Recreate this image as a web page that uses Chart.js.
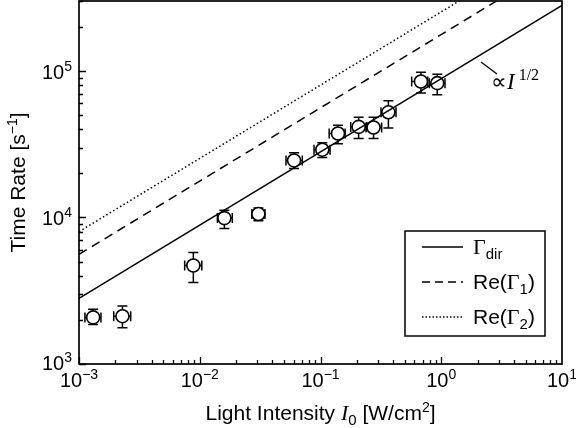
<!DOCTYPE html>
<html>
<head>
<meta charset="utf-8">
<script src="https://cdn.jsdelivr.net/npm/chart.js@4.4.1/dist/chart.umd.min.js"></script>
<style>
  html, body { margin: 0; padding: 0; background: #fff; }
  #chart { display: block; }
</style>
</head>
<body>
<canvas id="chart" width="576" height="428"></canvas>
<script>
(function () {
  'use strict';

  // measured points: intensity (W/cm2) and rate (1/s)
  var intensity = [1.31e-3, 2.29e-3, 8.85e-3, 1.6e-2, 3.06e-2, 6.04e-2, 0.1035, 0.1396, 0.207, 0.275, 0.365, 0.679, 0.927];
  var rate = [2.08e3, 2.12e3, 4.70e3, 9.9e3, 1.055e4, 2.45e4, 2.90e4, 3.74e4, 4.15e4, 4.11e4, 5.22e4, 8.47e4, 8.25e4];
  var rateLow = [1.86e3, 1.77e3, 3.60e3, 8.4e3, 9.5e3, 2.16e4, 2.57e4, 3.18e4, 3.46e4, 3.46e4, 4.08e4, 7.06e4, 6.89e4];
  var rateHigh = [2.36e3, 2.49e3, 5.76e3, 1.12e4, 1.16e4, 2.76e4, 3.23e4, 4.26e4, 4.83e4, 4.83e4, 6.27e4, 9.8e4, 9.5e4];
  var intensityLow = [1.12e-3, 1.94e-3, 7.5e-3, 1.4e-2, 2.7e-2, 5.18e-2, 0.0884, 0.118, 0.178, 0.238, 0.317, 0.569, 0.797];
  var intensityHigh = [1.52e-3, 2.68e-3, 1.04e-2, 1.86e-2, 3.47e-2, 7.07e-2, 0.12, 0.16, 0.241, 0.321, 0.422, 0.773, 1.074];

  // theory lines (endpoints on log-log axes)
  var lineX = [1e-3, 10];
  var gammaDir = [2.8e3, 2.8e5];
  var reGamma1 = [5.6e3, 5.6e5];
  var reGamma2 = [8.0e3, 8.0e5];

  // tick labels
  var xTickExps = ['\u22123', '\u22122', '\u22121', '0', '1'];
  var xTickValues = [1e-3, 1e-2, 1e-1, 1, 10];
  var yTickExps = ['3', '4', '5'];
  var yTickValues = [1e3, 1e4, 1e5];

  var SANS = '"Liberation Sans", Arial, sans-serif';
  var SERIF = '"Liberation Serif", "Times New Roman", serif';

  function pairs(xs, ys) {
    return xs.map(function (x, i) { return { x: x, y: ys[i] }; });
  }

  function drawRich(ctx, parts, x, y, align) {
    // parts: [{t, font, dy, gap}]
    var total = 0;
    parts.forEach(function (p) { ctx.font = p.font; total += ctx.measureText(p.t).width + (p.gap || 0); });
    var cx = align === 'right' ? x - total : (align === 'center' ? x - total / 2 : x);
    parts.forEach(function (p) {
      ctx.font = p.font;
      ctx.fillText(p.t, cx + (p.gap || 0), y + (p.dy || 0));
      cx += ctx.measureText(p.t).width + (p.gap || 0);
    });
  }

  var errorBars = {
    id: 'errorBars',
    beforeDatasetsDraw: function (chart) {
      var ctx = chart.ctx;
      var xs = chart.scales.x, ys = chart.scales.y;
      ctx.save();
      ctx.strokeStyle = '#000';
      ctx.lineWidth = 1.5;
      for (var i = 0; i < intensity.length; i++) {
        var px = xs.getPixelForValue(intensity[i]);
        var py = ys.getPixelForValue(rate[i]);
        var yl = ys.getPixelForValue(rateLow[i]);
        var yh = ys.getPixelForValue(rateHigh[i]);
        var xl = xs.getPixelForValue(intensityLow[i]);
        var xh = xs.getPixelForValue(intensityHigh[i]);
        ctx.beginPath();
        ctx.moveTo(px, yl); ctx.lineTo(px, yh);
        ctx.moveTo(px - 5, yl); ctx.lineTo(px + 5, yl);
        ctx.moveTo(px - 5, yh); ctx.lineTo(px + 5, yh);
        ctx.moveTo(xl, py); ctx.lineTo(xh, py);
        ctx.moveTo(xl, py - 5); ctx.lineTo(xl, py + 5);
        ctx.moveTo(xh, py - 5); ctx.lineTo(xh, py + 5);
        ctx.stroke();
      }
      ctx.restore();
    }
  };

  var frameAndText = {
    id: 'frameAndText',
    afterDraw: function (chart) {
      var ctx = chart.ctx;
      var a = chart.chartArea;
      var xs = chart.scales.x, ys = chart.scales.y;
      ctx.save();
      ctx.strokeStyle = '#000';
      ctx.fillStyle = '#000';

      // frame
      ctx.lineWidth = 1.7;
      ctx.strokeRect(a.left, a.top, a.right - a.left, a.bottom - a.top);

      // inward ticks on bottom and left axes
      ctx.lineWidth = 1.3;
      ctx.beginPath();
      var d, m, v, p;
      for (d = -3; d < 1; d++) {
        for (m = 1; m <= 9; m++) {
          v = m * Math.pow(10, d);
          p = Math.round(xs.getPixelForValue(v)) + 0.5;
          ctx.moveTo(p, a.bottom);
          ctx.lineTo(p, a.bottom - (m === 1 ? 7 : 4));
        }
      }
      for (d = 3; d < 6; d++) {
        for (m = 1; m <= 9; m++) {
          v = m * Math.pow(10, d);
          if (v > ys.max) break;
          p = Math.round(ys.getPixelForValue(v)) + 0.5;
          ctx.moveTo(a.left, p);
          ctx.lineTo(a.left + (m === 1 ? 7 : 4), p);
        }
      }
      ctx.stroke();

      // tick labels
      ctx.textBaseline = 'alphabetic';
      xTickValues.forEach(function (val, i) {
        var px = xs.getPixelForValue(val);
        drawRich(ctx, [
          { t: '10', font: '20px ' + SANS },
          { t: xTickExps[i], font: '14px ' + SANS, dy: -8 }
        ], px, 387, 'center');
      });
      yTickValues.forEach(function (val, i) {
        var py = ys.getPixelForValue(val);
        var base = i === 0 ? py + 6 : py + 8;
        drawRich(ctx, [
          { t: '10', font: '20px ' + SANS },
          { t: yTickExps[i], font: '14px ' + SANS, dy: -8 }
        ], 72, base, 'right');
      });

      // x title
      drawRich(ctx, [
        { t: 'Light Intensity ', font: '21px ' + SANS },
        { t: 'I', font: 'italic 22px ' + SERIF },
        { t: '0', font: '15px ' + SANS, dy: 5 },
        { t: ' [W/cm', font: '21px ' + SANS },
        { t: '2', font: '14px ' + SANS, dy: -8 },
        { t: ']', font: '21px ' + SANS }
      ], (a.left + a.right) / 2, 420, 'center');

      // y title
      ctx.save();
      ctx.translate(25, (a.top + a.bottom) / 2);
      ctx.rotate(-Math.PI / 2);
      drawRich(ctx, [
        { t: 'Time Rate [s', font: '21px ' + SANS },
        { t: '\u22121', font: '14px ' + SANS, dy: -8 },
        { t: ']', font: '21px ' + SANS }
      ], 0, 0, 'center');
      ctx.restore();

      // annotation
      ctx.lineWidth = 1.3;
      ctx.beginPath();
      ctx.moveTo(481, 62);
      ctx.lineTo(497, 74);
      ctx.stroke();
      drawRich(ctx, [
        { t: '\u221D', font: '22px ' + SERIF },
        { t: 'I', font: 'italic 23px ' + SERIF, gap: 0 },
        { t: '1/2', font: '16px ' + SERIF, dy: -9, gap: 4 }
      ], 491, 89, 'left');

      // legend
      var lx = 405, ly = 231, lw = 140, lh = 105;
      ctx.fillStyle = '#fff';
      ctx.fillRect(lx, ly, lw, lh);
      ctx.fillStyle = '#000';
      ctx.lineWidth = 1.5;
      ctx.strokeRect(lx, ly, lw, lh);
      var rows = [
        { dash: [], parts: [{ t: '\u0393', font: '22px ' + SERIF }, { t: 'dir', font: '15px ' + SANS, dy: 5 }] },
        { dash: [8, 5], parts: [{ t: 'Re(', font: '21px ' + SANS }, { t: '\u0393', font: '22px ' + SERIF }, { t: '1', font: '15px ' + SANS, dy: 5 }, { t: ')', font: '21px ' + SANS }] },
        { dash: [1.5, 2], parts: [{ t: 'Re(', font: '21px ' + SANS }, { t: '\u0393', font: '22px ' + SERIF }, { t: '2', font: '15px ' + SANS, dy: 5 }, { t: ')', font: '21px ' + SANS }] }
      ];
      rows.forEach(function (r, i) {
        var ry = 247 + i * 35;
        ctx.setLineDash(r.dash);
        ctx.lineWidth = 1.5;
        ctx.beginPath();
        ctx.moveTo(422, ry);
        ctx.lineTo(463, ry);
        ctx.stroke();
        ctx.setLineDash([]);
        drawRich(ctx, r.parts, 473, ry + 7, 'left');
      });

      ctx.restore();
    }
  };

  var ctx = document.getElementById('chart').getContext('2d');
  new Chart(ctx, {
    type: 'scatter',
    data: {
      datasets: [
        {
          label: 'Re(\u03932)',
          data: pairs(lineX, reGamma2),
          showLine: true,
          borderColor: '#000',
          borderWidth: 1.5,
          borderDash: [1.5, 2.5],
          pointRadius: 0
        },
        {
          label: 'Re(\u03931)',
          data: pairs(lineX, reGamma1),
          showLine: true,
          borderColor: '#000',
          borderWidth: 1.5,
          borderDash: [9, 6],
          pointRadius: 0
        },
        {
          label: '\u0393dir',
          data: pairs(lineX, gammaDir),
          showLine: true,
          borderColor: '#000',
          borderWidth: 1.5,
          pointRadius: 0
        },
        {
          label: 'data',
          data: pairs(intensity, rate),
          showLine: false,
          pointRadius: 6.5,
          pointBorderWidth: 1.6,
          pointBorderColor: '#000',
          pointBackgroundColor: '#fff'
        }
      ]
    },
    options: {
      responsive: false,
      animation: false,
      layout: { autoPadding: false, padding: { left: 79, right: 14, top: 1, bottom: 64 } },
      plugins: { legend: { display: false }, tooltip: { enabled: false } },
      scales: {
        x: { type: 'logarithmic', min: 1e-3, max: 10, display: false },
        y: { type: 'logarithmic', min: 1e3, max: 3e5, display: false }
      }
    },
    plugins: [errorBars, frameAndText]
  });
})();
</script>
</body>
</html>
